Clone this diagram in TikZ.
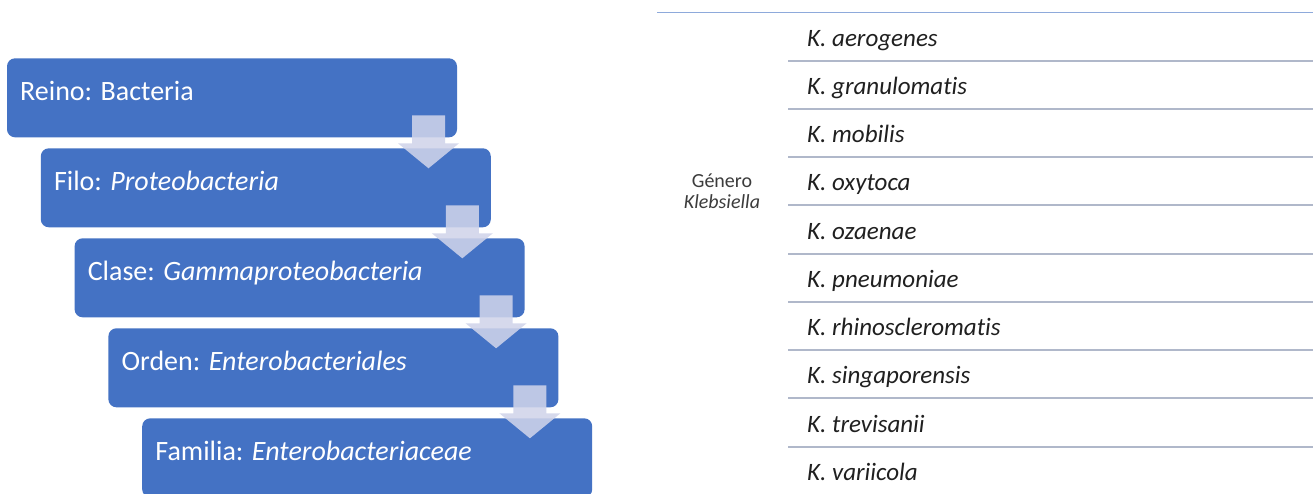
\documentclass[tikz,border=0pt]{standalone}
\usepackage{fontspec}
\setmainfont{Carlito}[Ligatures={NoCommon}]
\usetikzlibrary{calc}
\definecolor{boxblue}{RGB}{68,114,196}
\definecolor{arrowfill}{RGB}{208,212,234}
\definecolor{topline}{RGB}{142,170,219}
\definecolor{sepline}{RGB}{176,184,202}
\definecolor{txtgray}{RGB}{32,32,32}
\definecolor{gengray}{RGB}{60,60,60}
\begin{document}
\begin{tikzpicture}[x=1pt,y=-1pt,
  taxbox/.style={fill=boxblue, rounded corners=8pt, minimum width=450pt,
    minimum height=79pt, anchor=north west, inner sep=0pt, outer sep=0pt},
  taxtext/.style={anchor=base west, text=white, font=\fontsize{28}{32}\selectfont, inner sep=0pt},
  blockarrow/.style={fill=arrowfill, fill opacity=0.87, draw=none},
  species/.style={anchor=base west, text=txtgray, font=\fontsize{25}{28}\selectfont\itshape, inner sep=0pt},
  sep/.style={draw=sepline, line width=2pt},
]
\clip (0,0) rectangle (1313,493);
\fill[white] (0,0) rectangle (1313,493);
% boxes
\node[taxbox] (b1) at (7,58.3) {};
\node[taxbox] (b2) at (40.8,148.3) {};
\node[taxbox] (b3) at (74.6,238.3) {};
\node[taxbox] (b4) at (108.4,328.3) {};
\node[taxbox] (b5) at (142.2,418.3) {};
% texts
\node[taxtext] (t1) at ($(b1.north west)+(13,42.5)$) {Reino: Bacteria};
\node[taxtext] (t2) at ($(b2.north west)+(13,42.5)$) {Filo: \textit{Proteobacteria}};
\node[taxtext] (t3) at ($(b3.north west)+(13,42.5)$) {Clase: \textit{Gammaproteobacteria}};
\node[taxtext] (t4) at ($(b4.north west)+(13,42.5)$) {Orden: \textit{Enterobacteriales}};
\node[taxtext] (t5) at ($(b5.north west)+(13,42.5)$) {Familia: \textit{Enterobacteriaceae}};
% arrows
\foreach \b in {b1,b2,b3,b4}{
  \path[blockarrow] ($(\b.south east)+(-45,-22)$) -- ($(\b.south east)+(-12,-22)$)
    -- ($(\b.south east)+(-12,6)$) -- ($(\b.south east)+(2,6)$)
    -- ($(\b.south east)+(-28.5,31)$) -- ($(\b.south east)+(-59,6)$)
    -- ($(\b.south east)+(-45,6)$) -- cycle;
}
% right table
\draw[topline, line width=1.2pt] (657,12.3) -- (1313,12.3);
\node[anchor=base, text=gengray, font=\fontsize{20}{21}\selectfont, align=center, inner sep=0pt] (gen) at (722,208)
  {Género\\\textit{Klebsiella}};
\foreach \i/\n in {0/aerogenes,1/granulomatis,2/mobilis,3/oxytoca,4/ozaenae,5/pneumoniae,6/rhinoscleromatis,7/singaporensis,8/trevisanii,9/variicola}{
  \node[species] (s\i) at (807,{46+48.25*\i}) {K. \n};
}
\foreach \i in {0,...,8}{
  \draw[sep] (788,{60.7+48.25*\i}) -- (1313,{60.7+48.25*\i});
}
\end{tikzpicture}
\end{document}
